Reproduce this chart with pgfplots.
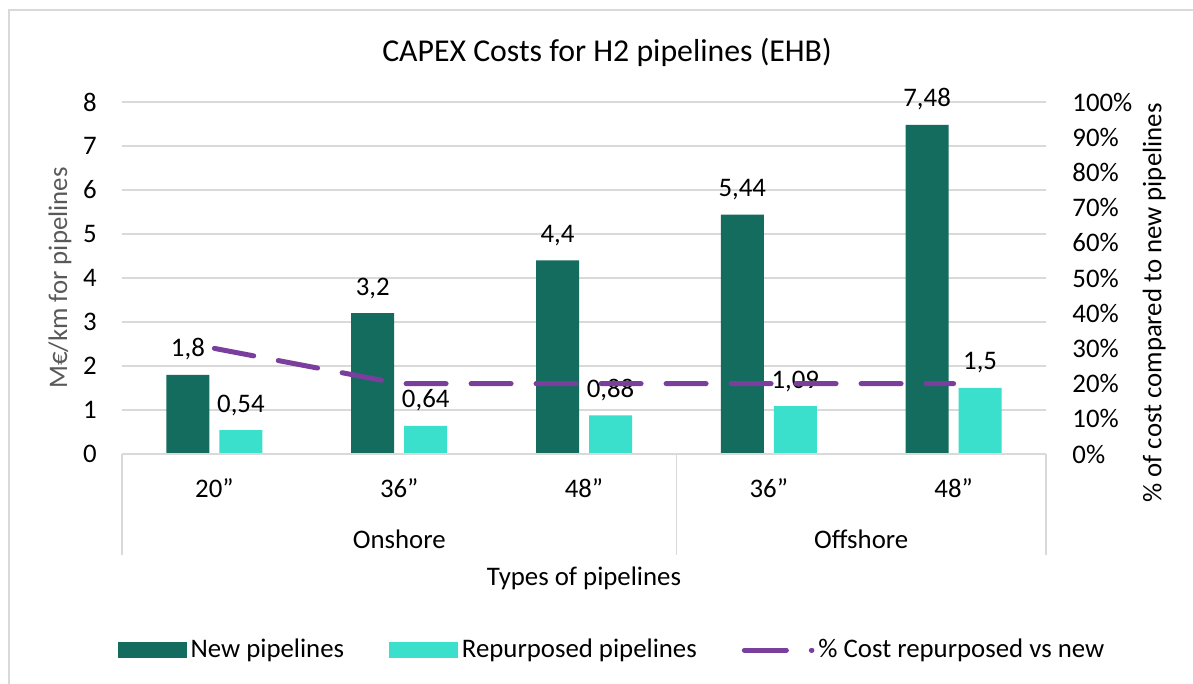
\documentclass[border=0pt]{standalone}
\usepackage{pgfplots}
\pgfplotsset{compat=1.18}
\usepackage{fontspec}
\setmainfont{Carlito}
\definecolor{newc}{HTML}{146C5F}
\definecolor{repc}{HTML}{3AE0CB}
\definecolor{linec}{HTML}{7A3E9D}
\definecolor{gridc}{HTML}{D9D9D9}
\definecolor{labc}{HTML}{595959}
\newcommand{\fs}{\fontsize{13.4}{15.5}\selectfont}
\begin{document}
\begin{tikzpicture}[x=1pt,y=1pt]
\useasboundingbox (0,0) rectangle (596.5,342);
\fill[white] (0,0) rectangle (596.5,342);
\draw[gridc, line width=1pt] (4.5,0) -- (4.5,337) -- (596.5,337);
\node[font=\fontsize{15.9}{18}\selectfont, anchor=base] at (303.5,311) {CAPEX Costs for H2 pipelines (EHB)};

\begin{axis}[
  at={(61pt,115pt)}, anchor=south west, scale only axis,
  width=462pt, height=176pt,
  xmin=-0.5, xmax=4.5, ymin=0, ymax=8,
  xtick={0,1,2,3,4}, xticklabels={20”,36”,48”,36”,48”},
  ytick={0,1,2,3,4,5,6,7,8},
  ymajorgrids, grid style={gridc, line width=0.6pt},
  axis line style={draw=none}, major tick length=0pt,
  tick label style={font=\fs},
  xticklabel style={anchor=base, yshift=-22pt},
  yticklabel style={anchor=east, inner sep=0pt, xshift=-12.5pt},
  /pgf/number format/assume math mode=true,
  ylabel={M€/km for pipelines},
  ylabel style={at={(rel axis cs:-0.0671,0.5)}, anchor=center, font=\fs, text=labc},
  clip=false,
  nodes near coords={\pgfmathprintnumber[use comma]{\pgfplotspointmeta}},
  every node near coord/.style={anchor=base, inner sep=0pt, yshift=9pt, font=\fs, text=black},
  bar width=21.5pt,
]
\addplot[ybar, fill=newc, draw=none, bar shift=-13.25pt,
  every node near coord/.append style={xshift=-13.25pt}]
  coordinates {(0,1.8) (1,3.2) (2,4.4) (3,5.44) (4,7.48)};
\addplot[ybar, fill=repc, draw=none, bar shift=13.25pt,
  every node near coord/.append style={xshift=13.25pt}]
  coordinates {(0,0.54) (1,0.64) (2,0.88) (3,1.09) (4,1.5)};
\draw[gridc, line width=0.75pt] (rel axis cs:0,0) -- (rel axis cs:1,0);
\draw[gridc, line width=0.75pt] (rel axis cs:0,0) -- ([yshift=-50.5pt]rel axis cs:0,0);
\draw[gridc, line width=0.75pt] (axis cs:2.5,0) -- ([yshift=-50.5pt]axis cs:2.5,0);
\draw[gridc, line width=0.75pt] (rel axis cs:1,0) -- ([yshift=-50.5pt]rel axis cs:1,0);
\node[anchor=base, yshift=-47.5pt, font=\fs] at (axis cs:1,0) {Onshore};
\node[anchor=base, yshift=-47.5pt, font=\fs] at (axis cs:3.5,0) {Offshore};
\node[anchor=base, yshift=-66pt, font=\fs] at (axis cs:2,0) {Types of pipelines};
\end{axis}

\begin{axis}[
  at={(61pt,115pt)}, anchor=south west, scale only axis,
  width=462pt, height=176pt,
  xmin=-0.5, xmax=4.5, ymin=0, ymax=1,
  axis x line=none, axis y line*=right,
  axis line style={draw=none}, major tick length=0pt,
  ytick={0,0.1,0.2,0.3,0.4,0.5,0.6,0.7,0.8,0.9,1},
  yticklabels={0\%,10\%,20\%,30\%,40\%,50\%,60\%,70\%,80\%,90\%,100\%},
  tick label style={font=\fs},
  yticklabel style={anchor=west, inner sep=0pt, xshift=13pt},
  ylabel={\% of cost compared to new pipelines},
  ylabel style={at={(rel axis cs:1.117,0.429)}, anchor=center, font=\fs},
  clip=false,
  legend columns=3,
  legend cell align=left,
  legend style={draw=none, fill=none, at={(rel axis cs:-0.0115,-0.557)}, anchor=west, font=\fs,
    /tikz/every even column/.append style={column sep=20.5pt}},
]
\addlegendimage{legend image code/.code={\fill[newc] (0pt,-3.75pt) rectangle (34pt,3.75pt);}}
\addlegendentry{New pipelines}
\addlegendimage{legend image code/.code={\fill[repc] (0pt,-3.75pt) rectangle (34pt,3.75pt);}}
\addlegendentry{Repurposed pipelines}
\addplot[linec, no markers, line width=2.5pt, line cap=round, dash pattern=on 20pt off 12.5pt,
  legend image code/.code={\draw[linec, line width=2.5pt, line cap=round, dash pattern=on 21pt off 12.5pt] (0pt,0pt) -- (33.8pt,0pt);}]
  coordinates {(0,0.3) (1,0.2) (2,0.2) (3,0.2) (4,0.2)};
\addlegendentry{\% Cost repurposed vs new}
\end{axis}
\end{tikzpicture}
\end{document}
